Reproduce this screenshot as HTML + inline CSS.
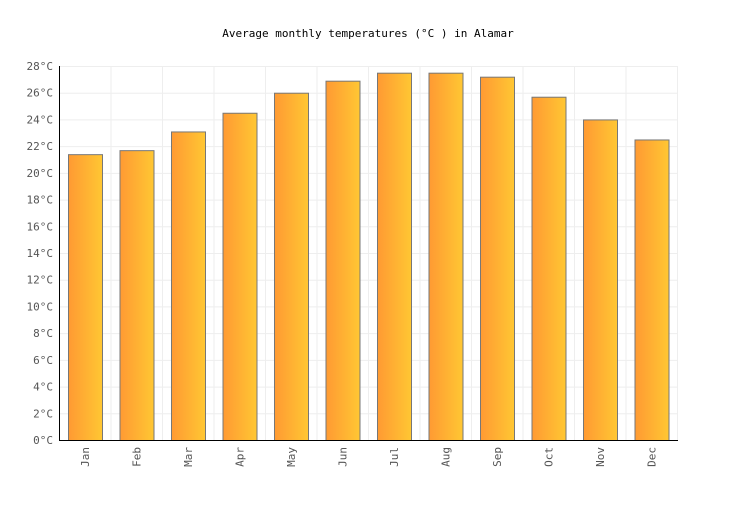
<!DOCTYPE html>
<html><head><meta charset="utf-8"><style>
body{margin:0;background:#fff;}
svg text{font-family:"DejaVu Sans Mono","Liberation Mono",monospace;}
</style></head><body>
<svg id="chart" width="736" height="500" xmlns="http://www.w3.org/2000/svg">
<defs><linearGradient id="g" x1="0" x2="1" y1="0" y2="0"><stop offset="0" stop-color="#ff9a33"/><stop offset="1" stop-color="#ffc733"/></linearGradient></defs>
<text x="368" y="37" text-anchor="middle" font-size="11" fill="#000">Average monthly temperatures (°C ) in Alamar</text>
<g id="grid"></g><g id="bars"></g><g id="axes"></g>
</svg>
<script>
const months=["Jan","Feb","Mar","Apr","May","Jun","Jul","Aug","Sep","Oct","Nov","Dec"];
const temps=[21.4,21.7,23.1,24.5,26.0,26.9,27.5,27.5,27.2,25.7,24.0,22.5];
const yTicks=[0,2,4,6,8,10,12,14,16,18,20,22,24,26,28];
const NS="http://www.w3.org/2000/svg";
const x0=59,x1=677,y0=440,y1=66,ymax=28;
const band=(x1-x0)/months.length;
const y=v=>y0-(v/ymax)*(y0-y1);
const xb=i=>x0+i*band;
function mk(t,a,p){const e=document.createElementNS(NS,t);for(const k in a)e.setAttribute(k,a[k]);p.appendChild(e);return e;}
const grid=document.getElementById('grid'),bars=document.getElementById('bars'),axes=document.getElementById('axes');
yTicks.forEach(v=>{
 const l=mk('line',{x1:x0,x2:x1,y1:y(v)+0.5,y2:y(v)+0.5,stroke:'#eeeeee'},grid);
 
 
 const t=mk('text',{x:53,y:y(v)+4,'text-anchor':'end','font-size':11,fill:'#555'},axes);
 t.textContent=v+'°C';
 
 
});
months.forEach((m,i)=>{
 const g=mk('line',{x1:xb(i+1)+0.5,x2:xb(i+1)+0.5,y1:y1,y2:y0,stroke:'#eeeeee'},grid);
 
 
 const r=mk('rect',{x:xb(i)+9.5,y:y(temps[i])+0.5,width:34,height:y0-y(temps[i]),fill:'url(#g)',stroke:'#777','stroke-width':1},bars);
 
 
 const cx=xb(i)+band/2+4;
 const t=mk('text',{x:cx,y:447,'text-anchor':'end','font-size':11,fill:'#555',transform:`rotate(-90 ${cx} 447)`},axes);
 t.textContent=m;
 
 
});
const ya=mk('line',{x1:x0+0.5,x2:x0+0.5,y1:y1,y2:y0+1,stroke:'#000'},axes);


const xa=mk('line',{x1:x0,x2:x1+1,y1:y0+0.5,y2:y0+0.5,stroke:'#000'},axes);


</script>
</body></html>
